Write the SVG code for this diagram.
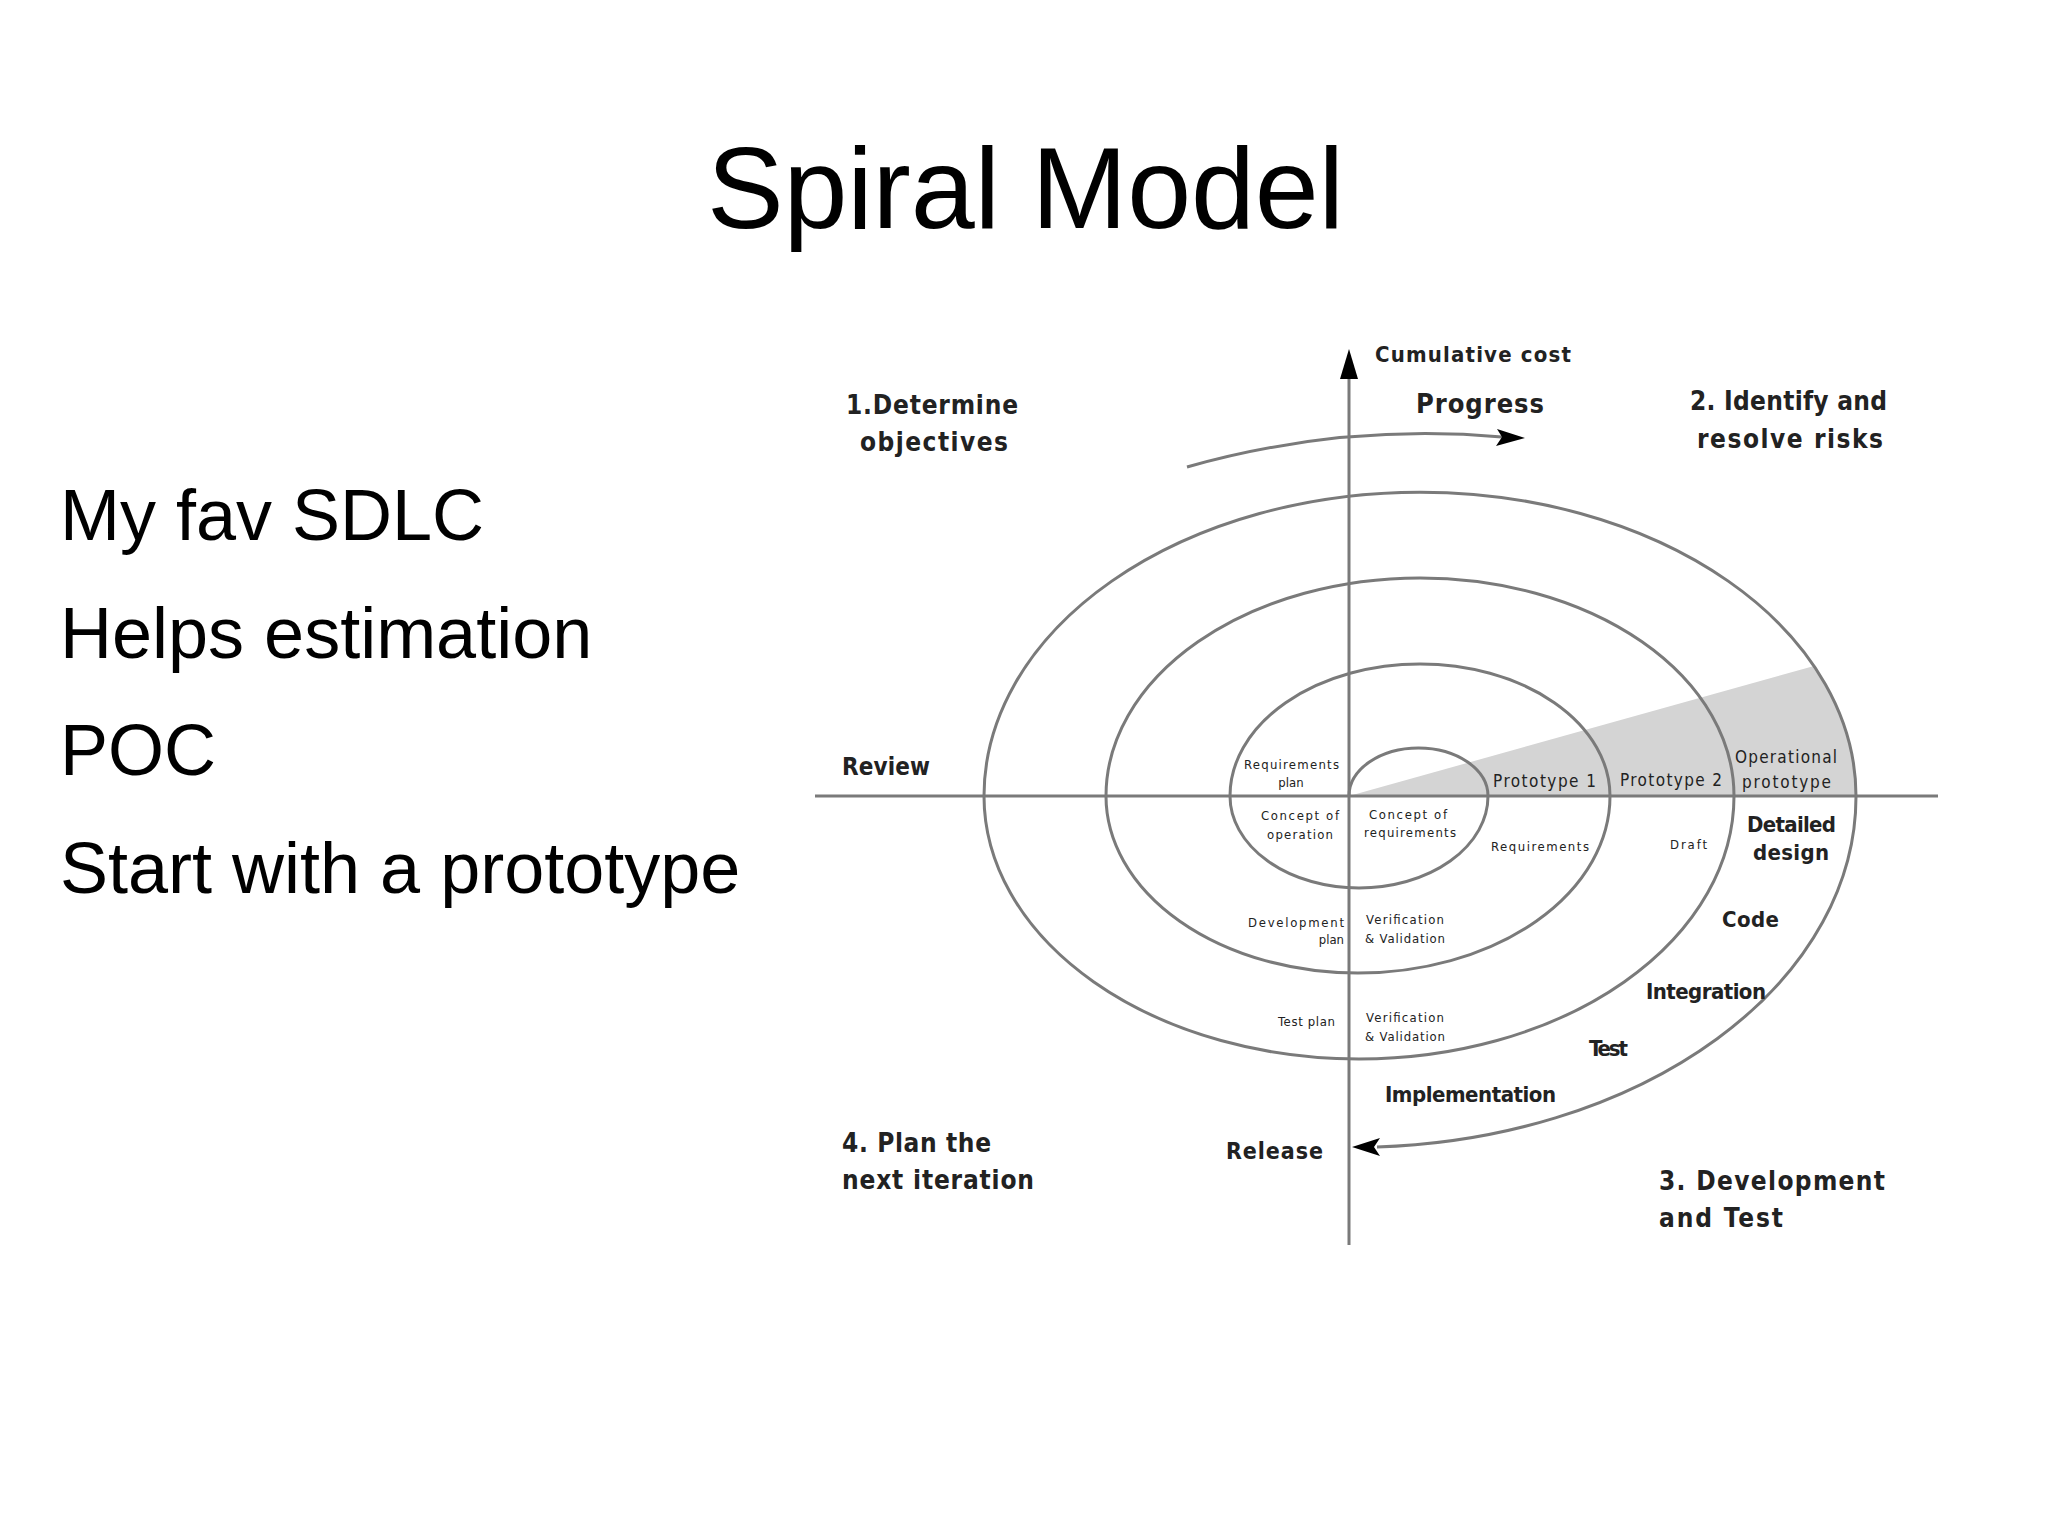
<svg xmlns="http://www.w3.org/2000/svg" width="2048" height="1535" viewBox="0 0 2048 1535">
<style>
.ln{fill:none;stroke:#7a7a7a;stroke-width:3}
.t{font-family:"Liberation Sans",Arial,sans-serif;fill:#000}
.b{font-family:"DejaVu Sans Condensed","DejaVu Sans",sans-serif;font-weight:bold;fill:#222}
.s{font-family:"DejaVu Sans Condensed","DejaVu Sans",sans-serif;fill:#222;font-size:13px}
.m{font-family:"DejaVu Sans Condensed","DejaVu Sans",sans-serif;fill:#222;font-size:17px}
</style>
<rect width="2048" height="1535" fill="#fff"/>
<text class="t" x="707" y="228" font-size="115" textLength="637">Spiral Model</text>
<g id="bullets" class="t" font-size="72">
<text x="60" y="540">My fav SDLC</text>
<text x="60" y="658">Helps estimation</text>
<text x="60" y="775">POC</text>
<text x="60" y="893">Start with a prototype</text>
</g>
<g transform="translate(-8,-5)">
<g id="shade"><path d="M1357,801 L1822,671 A436 304 0 0 1 1864 801 Z" fill="#d4d4d4"/></g>
<g id="connectors">
<line class="ln" x1="823" y1="801" x2="1946" y2="801"/>
<line class="ln" x1="1357" y1="1250" x2="1357" y2="370"/>
<path d="M1348,384 L1357,354 L1366,384 Z" fill="#000"/>
<path class="ln" d="M1357,801 A69.5 48 0 0 1 1496 801 A129 92 0 0 1 1238 801 A190 132 0 0 1 1618 801 A252 177 0 0 1 1114 801 A314 218 0 0 1 1742 801 A375 263 0 0 1 992 801 A436 304 0 0 1 1864 801 A502 351 0 0 1 1385 1152"/>
<path d="M1360,1152 L1388,1143 L1382,1152 L1388,1161 Z" fill="#000"/>
<path class="ln" d="M1195,472 Q1350,428 1510,442"/>
<path d="M1533,443 L1505,434 L1510,442 L1504,451 Z" fill="#000"/>
</g>
<g id="labels">
<text class="b" x="1383" y="367" font-size="22" textLength="196">Cumulative cost</text>
<text class="b" x="1424" y="418" font-size="27" textLength="128" font-weight="normal">Progress</text>
<text class="b" x="854" y="419" font-size="26" textLength="172">1.Determine</text>
<text class="b" x="868" y="456" font-size="26" textLength="148">objectives</text>
<text class="b" x="1698" y="415" font-size="26" textLength="197">2. Identify and</text>
<text class="b" x="1705" y="453" font-size="26" textLength="186">resolve risks</text>
<text class="b" x="850" y="780" font-size="24" textLength="88">Review</text>
<text class="s" x="1252" y="774" textLength="95">Requirements</text>
<text class="s" x="1299" y="792" text-anchor="middle">plan</text>
<text class="m" x="1501" y="792" textLength="103">Prototype 1</text>
<text class="m" x="1628" y="791" textLength="102">Prototype 2</text>
<text class="m" x="1743" y="768" textLength="102">Operational</text>
<text class="m" x="1750" y="793" textLength="89">prototype</text>
<text class="s" x="1269" y="825" textLength="78">Concept of</text>
<text class="s" x="1275" y="844" textLength="66">operation</text>
<text class="s" x="1377" y="824" textLength="78">Concept of</text>
<text class="s" x="1372" y="842" textLength="92">requirements</text>
<text class="s" x="1499" y="856" textLength="98">Requirements</text>
<text class="s" x="1678" y="854" textLength="37">Draft</text>
<text class="b" x="1755" y="837" font-size="22" textLength="89">Detailed</text>
<text class="b" x="1761" y="865" font-size="22" textLength="76">design</text>
<text class="b" x="1730" y="932" font-size="22" textLength="57">Code</text>
<text class="s" x="1256" y="932" textLength="96">Development</text>
<text class="s" x="1352" y="949" text-anchor="end">plan</text>
<text class="s" x="1374" y="929" textLength="78">Verification</text>
<text class="s" x="1373" y="948" textLength="80">&amp; Validation</text>
<text class="b" x="1654" y="1004" font-size="22" textLength="120">Integration</text>
<text class="s" x="1286" y="1031" textLength="57">Test plan</text>
<text class="s" x="1374" y="1027" textLength="78">Verification</text>
<text class="s" x="1373" y="1046" textLength="80">&amp; Validation</text>
<text class="b" x="1597" y="1061" font-size="22" textLength="39">Test</text>
<text class="b" x="1393" y="1107" font-size="22" textLength="171">Implementation</text>
<text class="b" x="1234" y="1164" font-size="23" textLength="97">Release</text>
<text class="b" x="850" y="1157" font-size="26" textLength="149">4. Plan the</text>
<text class="b" x="850" y="1194" font-size="26" textLength="192">next iteration</text>
<text class="b" x="1667" y="1195" font-size="26" textLength="226">3. Development</text>
<text class="b" x="1667" y="1232" font-size="26" textLength="124">and Test</text>
</g>
</g>
</svg>
